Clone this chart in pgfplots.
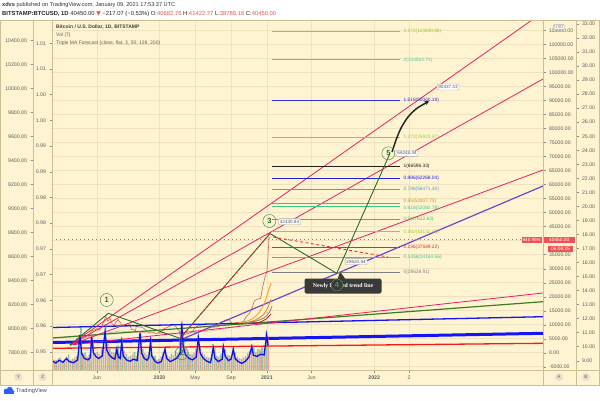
\documentclass[border=0pt]{standalone}
\usepackage{pgfplots}
\pgfplotsset{compat=1.18}
\usepackage{fontspec}
\setmainfont{Liberation Sans}
\newfontfamily\dejavu{DejaVu Sans}
\newfontfamily\serifbold{Liberation Serif}
\usetikzlibrary{arrows.meta,shapes.callouts}

\definecolor{cream}{RGB}{255,244,209}
\definecolor{gridc}{RGB}{238,226,192}
\definecolor{sepc}{RGB}{205,190,150}
\definecolor{lblc}{RGB}{95,95,95}
\definecolor{tickc}{RGB}{140,140,140}
\definecolor{pinkl}{RGB}{233,30,99}
\definecolor{purpl}{RGB}{110,70,200}
\definecolor{bluel}{RGB}{20,20,245}
\definecolor{redl}{RGB}{250,25,25}
\definecolor{greenl}{RGB}{60,125,35}
\definecolor{wavegreen}{RGB}{40,110,45}
\definecolor{fyg}{RGB}{160,200,50}
\definecolor{faqua}{RGB}{80,205,160}
\definecolor{fblue}{RGB}{50,50,215}
\definecolor{fblack}{RGB}{30,30,30}
\definecolor{fblue2}{RGB}{30,30,230}
\definecolor{fsteel}{RGB}{70,160,210}
\definecolor{fgold}{RGB}{200,145,30}
\definecolor{fsea}{RGB}{60,200,130}
\definecolor{fgreen}{RGB}{75,190,70}
\definecolor{fred}{RGB}{215,45,45}
\definecolor{fgray}{RGB}{128,128,128}
\definecolor{volg}{RGB}{38,166,154}
\definecolor{volr}{RGB}{239,83,80}
\definecolor{volblue}{RGB}{15,15,240}
\definecolor{pricec}{RGB}{205,120,95}
\definecolor{tagred}{RGB}{238,82,82}
\definecolor{callbg}{RGB}{58,58,58}
\definecolor{boxtxt}{RGB}{85,95,115}
\definecolor{orangec}{RGB}{255,160,30}
\definecolor{tvblue}{RGB}{41,98,255}
\definecolor{circfill}{RGB}{232,224,204}

\pgfplotsset{
  base/.style={at={(52pt,30pt)},anchor=south west,scale only axis,width=491pt,height=350pt,xmin=-12.02,xmax=42.87},
  numfmt/.style={scaled y ticks=false,/pgf/number format/fixed,/pgf/number format/fixed zerofill,/pgf/number format/precision=2,/pgf/number format/1000 sep={},/pgf/number format/assume math mode=true},
  sidetick/.style={tick align=outside,major tick length=2.5pt,tick style={tickc,line width=0.4pt},
    ticklabel style={font=\fontsize{5.2}{6}\selectfont,text=lblc},axis line style={draw=none}},
  fib/.style={line width=0.9pt},
}
\tikzset{
  fiblbl/.style={anchor=west,inner sep=0.5pt,font=\fontsize{4.8}{5}\selectfont},
  pbox/.style={fill=white,fill opacity=0.9,text opacity=1,draw=gray!70,rounded corners=1pt,inner sep=1.4pt,text=boxtxt,font=\fontsize{4.6}{5}\selectfont},
  wcirc/.style={circle,draw=wavegreen!80,line width=0.5pt,minimum size=13pt,inner sep=0pt,text=wavegreen,font=\bfseries\fontsize{7.5}{8}\selectfont},
}

\begin{document}
\begin{tikzpicture}
\useasboundingbox (0,0) rectangle (600pt,400pt);
\fill[white] (0,0) rectangle (600pt,400pt);
\fill[cream] (0,15pt) rectangle (600pt,380pt);

% ---- left Y scale
\begin{axis}[at={(33pt,30pt)},anchor=south west,scale only axis,width=19pt,height=350pt,
  xmin=0,xmax=1,ymin=7652.5,ymax=10569.2,xtick=\empty,
  ytick={7800,8000,8200,8400,8600,8800,9000,9200,9400,9600,9800,10000,10200,10400},
  ytick pos=left,sidetick,numfmt]
\addplot[draw=none] coordinates {(0.5,8000)};
\end{axis}
% ---- left Z scale
\begin{axis}[base,ymin=0.94644,ymax=1.014533,xtick=\empty,
  ytick={0.95,0.955,0.96,0.965,0.97,0.975,0.98,0.985,0.99,0.995,1.0,1.005,1.01},
  yticklabels={0.95,0.96,0.96,0.97,0.97,0.98,0.98,0.99,0.99,1.00,1.00,1.01,1.01},
  ytick pos=left,sidetick]
\addplot[draw=none] coordinates {(0,0.97)};
\end{axis}
% ---- right B scale
\begin{axis}[at={(543pt,30pt)},anchor=south west,scale only axis,width=33pt,height=350pt,
  xmin=0,xmax=1,ymin=8.337,ymax=33.284,xtick=\empty,
  ytick={9,10,11,12,13,14,15,16,17,18,19,20,21,22,23,24,25,26,27,28,29,30,31,32,33},
  ytick pos=right,yticklabel pos=right,sidetick,numfmt]
\addplot[draw=none] coordinates {(0.5,20)};
\end{axis}

% ---- main price axis (grid, USD scale, trend lines)
\begin{axis}[base,ymin=-6179,ymax=118821,
  sidetick,numfmt,
  xtick={-7,0,4,8,12,17,24,27.9},
  xticklabels={Jun,\textbf{2020},May,Sep,\textbf{2021},Jun,\textbf{2022},2},
  ytick={-5000,0,5000,10000,15000,20000,25000,30000,35000,40000,45000,50000,55000,60000,65000,70000,75000,80000,85000,90000,95000,100000,105000,110000,115000},
  xtick pos=bottom,ytick pos=right,yticklabel pos=right,
  grid=major,major grid style={gridc,line width=0.5pt}]
% price (daily candles, condensed)
\addplot[pricec,line width=0.7pt] table[row sep=\\]{x y\\
-12.02 3900\\ -11.7 3700\\ -11.4 3580\\ -11.0 3450\\ -10.7 3600\\ -10.3 3800\\ -10.0 3850\\ -9.6 3950\\
-9.2 4050\\ -8.95 4150\\ -8.8 5100\\ -8.5 5300\\ -8.2 5600\\ -7.9 5800\\ -7.6 7800\\ -7.3 8100\\
-7.0 8600\\ -6.7 8000\\ -6.5 9200\\ -6.25 11000\\ -6.0 13000\\ -5.8 11200\\ -5.55 12300\\ -5.3 10400\\
-5.1 9600\\ -4.9 10800\\ -4.6 11800\\ -4.3 10300\\ -4.0 9600\\ -3.6 10400\\ -3.3 9900\\ -3.15 8300\\
-2.9 8200\\ -2.7 7500\\ -2.6 9400\\ -2.3 9200\\ -2.0 9100\\ -1.7 8600\\ -1.4 7600\\ -1.15 7100\\
-0.9 7400\\ -0.6 7200\\ -0.4 6800\\ -0.1 7200\\ 0.2 7300\\ 0.5 8600\\ 0.8 8900\\ 1.1 9400\\
1.4 10200\\ 1.7 9700\\ 2.0 8600\\ 2.2 7900\\ 2.38 4900\\ 2.5 5400\\ 2.8 6500\\ 3.1 6800\\
3.4 7000\\ 3.7 7600\\ 3.95 8800\\ 4.3 9700\\ 4.6 9600\\ 5.0 9500\\ 5.3 9500\\ 5.7 9200\\
6.0 9100\\ 6.4 9200\\ 6.7 9600\\ 6.9 11000\\ 7.2 11300\\ 7.5 11800\\ 7.8 11600\\ 8.1 10400\\
8.4 10600\\ 8.7 10800\\ 9.0 10700\\ 9.4 11300\\ 9.7 12900\\ 10.0 13800\\ 10.3 15500\\ 10.6 18500\\
10.85 19000\\ 11.0 19200\\ 11.3 19300\\ 11.5 23000\\ 11.75 26500\\ 12.0 29000\\ 12.12 34000\\ 12.2 39000\\
12.25 41500\\ 12.28 40450\\
};
% slow moving average
\addplot[gray!60,line width=0.5pt] coordinates {(-12.02,5250) (-7.77,5964) (-4.42,7750) (-1.06,7036) (2.29,6679) (5.65,7750) (8.44,9179) (10.68,11679) (12.13,14536)};
% horizontal-ish trend lines
\addplot[redl,line width=1.3pt] coordinates {(-12.02,1571) (42.87,3357)};
\addplot[bluel,line width=3pt] coordinates {(-12.02,3643) (42.87,6929)};
\addplot[bluel,line width=1.3pt] coordinates {(-12.02,9000) (42.87,12857)};
\addplot[greenl,line width=1.2pt] coordinates {(-12.02,5250) (42.87,18214)};
\addplot[purpl,line width=1.2pt] coordinates {(2.29,4536) (42.87,59536)};
% fan from the early-2019 low
\addplot[pinkl,line width=0.8pt] coordinates {(-10.01,2750) (41.64,118821)};
\addplot[pinkl,line width=0.8pt] coordinates {(-10.01,2750) (42.87,97750)};
\addplot[pinkl,line width=0.8pt] coordinates {(-10.01,2750) (42.87,65250)};
\addplot[pinkl,line width=0.8pt] coordinates {(-10.01,2750) (42.87,21320)};
% last price
\addplot[tagred,line width=1.1pt,dash pattern=on 1.2pt off 2.8pt] coordinates {(-12.02,40450) (42.87,40450)};
\end{axis}

% ---- volume pane
\begin{axis}[base,ymin=0,ymax=100,hide axis]
\addplot[ybar,bar shift=0pt,bar width=1.6pt,fill=volg,draw=none,fill opacity=0.55] table[row sep=\\]{x y\\
-12.0 3.5\\ -11.54 2.8\\ -11.08 3.6\\ -10.62 3.0\\ -10.16 4.5\\ -9.7 3.2\\ -9.24 4.0\\ -8.78 12.0\\
-8.32 5.0\\ -7.86 4.4\\ -7.4 8.5\\ -6.94 5.2\\ -6.48 6.0\\ -6.02 13.0\\ -5.56 6.5\\ -5.1 5.0\\
-4.64 7.0\\ -4.18 9.0\\ -3.72 4.6\\ -3.26 4.0\\ -2.8 5.2\\ -2.34 7.5\\ -1.88 6.0\\ -1.42 4.4\\
-0.96 9.5\\ -0.5 4.0\\ -0.04 3.2\\ 0.42 5.0\\ 0.88 4.2\\ 1.34 4.6\\ 1.8 5.5\\ 2.26 9.0\\
2.72 8.5\\ 3.18 5.2\\ 3.64 4.5\\ 4.1 6.0\\ 4.56 7.0\\ 5.02 4.4\\ 5.48 3.6\\ 5.94 7.5\\
6.4 4.0\\ 6.86 4.6\\ 7.32 6.0\\ 7.78 4.2\\ 8.24 6.5\\ 8.7 3.8\\ 9.16 3.2\\ 9.62 4.0\\
10.08 5.5\\ 10.54 7.0\\ 11.0 6.0\\ 11.46 6.5\\ 11.92 11.0\\
};
\addplot[ybar,bar shift=0pt,bar width=1.6pt,fill=volr,draw=none,fill opacity=0.5] table[row sep=\\]{x y\\
-11.77 3.0\\ -11.31 3.4\\ -10.85 2.6\\ -10.39 3.8\\ -9.93 3.0\\ -9.47 3.6\\ -9.01 6.0\\ -8.55 4.8\\
-8.09 3.8\\ -7.63 10.0\\ -7.17 5.0\\ -6.71 4.6\\ -6.25 7.0\\ -5.79 7.5\\ -5.33 5.2\\ -4.87 6.5\\
-4.41 4.8\\ -3.95 5.5\\ -3.49 3.8\\ -3.03 4.5\\ -2.57 4.0\\ -2.11 11.0\\ -1.65 4.8\\ -1.19 5.0\\
-0.73 4.2\\ -0.27 3.0\\ 0.19 3.8\\ 0.65 6.5\\ 1.11 3.8\\ 1.57 4.2\\ 2.03 5.0\\ 2.49 14.0\\
2.95 6.0\\ 3.41 4.6\\ 3.87 5.0\\ 4.33 10.0\\ 4.79 5.0\\ 5.25 3.8\\ 5.71 3.4\\ 6.17 6.5\\
6.63 3.8\\ 7.09 7.0\\ 7.55 4.4\\ 8.01 4.0\\ 8.47 5.0\\ 8.93 3.4\\ 9.39 3.6\\ 9.85 4.8\\
10.31 7.5\\ 10.77 5.2\\ 11.23 5.8\\ 11.69 6.5\\ 12.15 9.5\\
};
\addplot[volblue,line width=1.3pt] table[row sep=\\]{x y\\
-12.02 2.6\\ -11.6 2.0\\ -11.2 2.8\\ -10.8 2.2\\ -10.4 3.3\\ -10.1 2.4\\ -9.6 2.1\\ -9.15 2.9\\
-8.9 10.0\\ -8.7 4.7\\ -8.4 3.3\\ -8.0 2.9\\ -7.75 3.5\\ -7.58 9.4\\ -7.4 5.0\\ -7.1 3.8\\
-6.8 3.3\\ -6.4 4.0\\ -6.09 10.9\\ -5.9 5.7\\ -5.6 4.2\\ -5.3 3.5\\ -5.0 3.1\\ -4.78 5.9\\
-4.6 3.7\\ -4.4 3.3\\ -4.23 7.9\\ -4.05 4.0\\ -3.7 2.9\\ -3.3 2.5\\ -2.9 3.1\\ -2.5 2.7\\
-2.18 10.5\\ -2.0 4.8\\ -1.7 3.3\\ -1.4 2.8\\ -1.2 3.5\\ -1.01 8.0\\ -0.85 3.9\\ -0.5 2.5\\
-0.2 2.0\\ 0.2 2.4\\ 0.61 5.9\\ 0.8 3.3\\ 1.2 2.4\\ 1.6 2.9\\ 2.0 3.5\\ 2.35 5.2\\
2.48 13.3\\ 2.65 6.7\\ 2.9 4.4\\ 3.3 3.3\\ 3.7 2.9\\ 4.1 3.7\\ 4.34 9.1\\ 4.55 4.8\\
4.9 3.3\\ 5.3 2.5\\ 5.7 2.1\\ 6.01 6.3\\ 6.2 3.3\\ 6.6 2.4\\ 7.0 3.1\\ 7.13 6.7\\
7.35 3.9\\ 7.7 2.7\\ 8.0 3.1\\ 8.25 5.9\\ 8.45 3.3\\ 8.8 2.4\\ 9.2 1.9\\ 9.6 2.5\\
10.0 3.7\\ 10.31 6.6\\ 10.5 4.2\\ 10.9 3.9\\ 11.3 4.5\\ 11.7 4.3\\ 11.98 10.0\\ 12.13 7.0\\
};
\end{axis}

% ---- drawings: fib levels, Elliott waves, MA forecasts
\begin{axis}[base,ymin=-6179,ymax=118821,hide axis]
\addplot[orangec,line width=0.9pt,smooth] coordinates {(8.78,10607) (10.12,11679) (11.01,13821) (11.68,17393) (12.13,21679) (12.47,24893)};
\addplot[orangec!80!red,line width=0.8pt,smooth] coordinates {(9.67,10607) (10.79,11679) (11.57,13464) (12.13,16321) (12.47,19179)};
\addplot[gray,line width=0.8pt,smooth] coordinates {(9.45,10607) (10.79,11321) (11.68,12393) (12.24,14179) (12.58,16679)};
\addplot[redl!80!black,line width=0.8pt,smooth] coordinates {(10.12,10250) (11.24,10964) (11.91,12036) (12.47,13821)};

\addplot[fyg,fib] coordinates {(12.58,114890.88) (26.89,114890.88)};
\addplot[faqua,fib] coordinates {(12.58,104563.74) (26.89,104563.74)};
\addplot[fblue,fib] coordinates {(12.58,90060.19) (26.89,90060.19)};
\addplot[fyg,fib] coordinates {(12.58,76923.47) (26.89,76923.47)};
\addplot[fblack,fib] coordinates {(12.58,66596.33) (26.89,66596.33)};
\addplot[fblue2,fib] coordinates {(12.58,62268.04) (26.89,62268.04)};
\addplot[fsteel,fib] coordinates {(12.58,58471.30) (26.89,58471.30)};
\addplot[fgold,fib] coordinates {(12.58,53307.73) (26.89,53307.73)};
\addplot[fsea,fib] coordinates {(12.58,52092.78) (26.89,52092.78)};
\addplot[fgreen,fib] coordinates {(12.58,47612.62) (26.89,47612.62)};
\addplot[fyg,fib] coordinates {(12.58,43132.45) (26.89,43132.45)};
\addplot[fred,fib] coordinates {(12.58,37589.22) (26.89,37589.22)};
\addplot[fsea,fib] coordinates {(12.58,34164.56) (26.89,34164.56)};
\addplot[fgray,fib] coordinates {(12.58,28628.91) (26.89,28628.91)};

\node[fiblbl,text=fyg] at (axis cs:27.22,114890.88) {2.272(114890.88)};
\node[fiblbl,text=faqua] at (axis cs:27.22,104563.74) {2(104563.74)};
\node[fiblbl,text=fblue] at (axis cs:27.22,90060.19) {1.618(90060.19)};
\node[fiblbl,text=fyg] at (axis cs:27.22,76923.47) {1.272(76923.47)};
\node[fiblbl,text=fblack] at (axis cs:27.22,66596.33) {1(66596.33)};
\node[fiblbl,text=fblue2] at (axis cs:27.22,62268.04) {0.886(62268.04)};
\node[fiblbl,text=fsteel] at (axis cs:27.22,58471.30) {0.786(58471.30)};
\node[fiblbl,text=fgold,anchor=south west] at (axis cs:27.22,53000) {0.65(53307.73)};
\node[fiblbl,text=fsea,anchor=north west] at (axis cs:27.22,52500) {0.618(52092.78)};
\node[fiblbl,text=fgreen] at (axis cs:27.22,47612.62) {0.5(47612.62)};
\node[fiblbl,text=fyg] at (axis cs:27.22,43132.45) {0.382(43132.45)};
\node[fiblbl,text=fred] at (axis cs:27.22,37589.22) {0.236(37589.22)};
\node[fiblbl,text=fsea] at (axis cs:27.22,34164.56) {0.1458(34164.56)};
\node[fiblbl,text=fgray] at (axis cs:27.22,28628.91) {0(28628.91)};

% Elliott waves
\addplot[wavegreen,line width=0.9pt] coordinates {(-10.01,2750) (-5.73,14071) (2.29,5143)};
\addplot[wavegreen,line width=0.9pt] coordinates {(2.29,5143) (12.35,42571)};
\addplot[redl,line width=0.9pt,dash pattern=on 2pt off 2.5pt] coordinates {(2.29,5143) (12.35,42571)};
\addplot[wavegreen,line width=0.9pt] coordinates {(12.35,42571) (19.81,28357) (25.77,71214)};
\addplot[redl,line width=0.8pt,dash pattern=on 3pt off 2.5pt] coordinates {(12.69,41321) (25.55,34179)};
% projected move
\addplot[black!85,line width=1.5pt,smooth,-{Stealth[length=4.5pt,width=4.5pt]}] coordinates {(25.99,71679) (26.44,75964) (27.0,80250) (27.78,84179) (28.67,87036) (29.57,88821) (30.13,89893)};

\node[wcirc] at (axis cs:-5.90,18821) {1};
\node[wcirc] at (axis cs:2.48,-214) {2};
\node[wcirc] at (axis cs:12.28,47036) {3};
\node[wcirc] at (axis cs:25.58,71214) {5};
\node[pbox] at (axis cs:14.53,46786) {42430.84};
\node[pbox] at (axis cs:27.67,71214) {66248.34};
\node[pbox] at (axis cs:32.25,94893) {90437.43};
\node[pbox] at (axis cs:21.97,32500) {28620.94};
\end{axis}

\begin{scope}[x=1pt,y=1pt]
% callout
\node[rectangle callout,callout absolute pointer={(340,128.5)},fill=callbg,rounded corners=2pt,text=white,
  font=\serifbold\bfseries\fontsize{5.8}{6}\selectfont,minimum width=77pt,minimum height=15pt,inner sep=1pt]
  at (343,114) {Newly formed trend line};
\node[circle,draw=wavegreen!80,line width=0.5pt,minimum size=12pt,inner sep=0pt,fill=callbg,text=wavegreen!80!white,
  font=\bfseries\fontsize{7.5}{8}\selectfont] at (337,115) {4};
% price tags
\node[anchor=east,fill=tagred,text=white,font=\fontsize{4.6}{5}\selectfont,inner sep=1pt,minimum height=6pt] at (542,160.4) {940.95\%};
\node[anchor=west,fill=tagred,text=white,font=\fontsize{4.8}{5}\selectfont,inner sep=0.5pt,minimum width=31pt,minimum height=6pt] at (543.5,160.4) {40450.00};
\node[fill=tagred,text=white,font=\fontsize{4.8}{5}\selectfont,inner sep=0.5pt,minimum width=25pt,minimum height=6pt] at (560.5,151.3) {06:06:25};
\node[fill=white,draw=gray!60,text=gray,font=\fontsize{4.4}{5}\selectfont,inner sep=0.8pt,rounded corners=0.8pt] at (559,373) {USD};
% separators
\draw[sepc,line width=0.6pt] (0.5,15) rectangle (599.5,380);
\draw[sepc,line width=0.6pt] (33,15) -- (33,380) (52,15) -- (52,380) (543,15) -- (543,380) (576,15) -- (576,380) (0.5,30) -- (599.5,30);
% pane legend
\node[anchor=west,inner sep=0,text=black!75,font=\bfseries\fontsize{5}{6}\selectfont] at (56,372.7) {Bitcoin / U.S. Dollar, 1D, BITSTAMP};
\node[anchor=west,inner sep=0,text=lblc,font=\fontsize{5}{6}\selectfont] at (56,364.3) {Vol (7)};
\node[anchor=west,inner sep=0,text=lblc,font=\fontsize{5}{6}\selectfont] at (56,356.7) {Triple MA Forecast (close, flat, 3, 50, 128, 200)};
% header
\node[anchor=west,inner sep=0,text=black!80,font=\fontsize{5.6}{6}\selectfont] at (2,395) {\textbf{xdvs} published on TradingView.com, January 09, 2021 17:53:37 UTC};
\node[anchor=west,inner sep=0,text=black!85,font=\fontsize{5.85}{6}\selectfont] at (2,386) {\textbf{BITSTAMP:BTCUSD, 1D} 40450.00 {\color{tagred}\dejavu ▼} −217.07 (−0.53\%) O:{\color{tagred}40682.76} H:{\color{tagred}41422.77} L:{\color{tagred}38788.16} C:{\color{tagred}40450.00}};
% scale badges
\foreach \px/\lt in {18.3/Y,42.7/Z,559/A,586/B}
  \node[circle,fill=circfill,text=lblc,minimum size=8pt,inner sep=0pt,font=\fontsize{4.6}{5}\selectfont] at (\px,23) {\lt};
% logo
\fill[tvblue] (3.5,6.5) rectangle (14,9);
\fill[tvblue] (6,9) circle (2.3);
\fill[tvblue] (9.8,10.2) circle (3);
\fill[tvblue] (12.6,8.6) circle (1.8);
\node[anchor=west,inner sep=0,text=black!70,font=\fontsize{5.6}{6}\selectfont] at (16,8.5) {TradingView};
\end{scope}
\end{tikzpicture}
\end{document}
